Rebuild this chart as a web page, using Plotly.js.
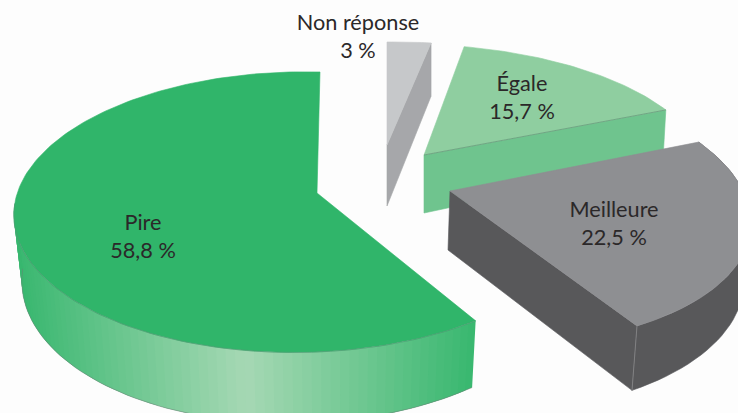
<!DOCTYPE html>
<html><head><meta charset="utf-8">
<script src="https://cdn.plot.ly/plotly-3.0.1.min.js"></script>
<style>html,body{margin:0;padding:0;background:#fdfdfd}#c{width:738px;height:413px}</style>
</head><body><div id="c"></div>
<script>
// data, clockwise from 12 o'clock
const categories = ["Non réponse", "Égale", "Meilleure", "Pire"];
const percentages = [3, 15.7, 22.5, 58.8];

// styles
const topColors = ["#c6c8ca", "#8fcea0", "#8e8f92", "#30b56a"];
const wallColors = ["#a6a7aa", "#6fc48e", "#58585a", "#30b56a"];

// perspective drawing parameters of each slice (one per category)
const apexX = [387, 424, 450, 317];
const apexY = [145, 155, 191, 193];
const radiusX = [269, 294, 271.2, 282];
const radiusY = [117, 126, 131.6, 137.5];
const shearX = [0, -9.3, -17.7, 3.4];
const shearY = [10, 1.4, -3.1, 0];
const sideTerm = [0.059, 0.059, -0.08, 0.059];
const wallH = [61, 58, 59, 61];
const wallVx = [387, 424, 325, 334];
const wallShrink = [0, 0.0124, 0.016, 0.025];
const persDepth = 0.136, persSide = 0.059;
const labelX = [358, 522, 614, 143];
const labelY = [24.5, 86, 211.5, 224.5];

const rad = d => d * Math.PI / 180;
function rimPt(i, th) {
  const s = Math.sin(rad(th)), c = Math.cos(rad(th));
  const den = 1 + persDepth * c + sideTerm[i] * s;
  return {x: apexX[i] + (radiusX[i] * s + shearX[i] * c) / den,
          y: apexY[i] - (radiusY[i] * c + shearY[i] * s) / den,
          s: 1 / (1 + persDepth * c + persSide * s)};
}
function lowPt(i, p) {
  return {x: wallVx[i] + (p.x - wallVx[i]) * (1 - wallShrink[i]), y: p.y + wallH[i] * p.s};
}
const apexPt = i => ({x: apexX[i], y: apexY[i], s: 1});
function steps(a, b, n) { const o = []; for (let j = 0; j <= n; j++) o.push(a + (b - a) * j / n); return o; }

const traces = [];
function poly(pts, color, lw, lc) {
  traces.push({type: "scatter", mode: "lines", x: pts.map(p => p.x), y: pts.map(p => p.y),
    fill: "toself", fillcolor: color, line: {color: lc || color, width: lw === undefined ? 0.6 : lw},
    hoverinfo: "skip", showlegend: false});
}
function band(pts, color) {
  traces.push({type: "scatter", mode: "none", x: pts.map(p => p.x), y: pts.map(p => p.y),
    fill: "toself", fillcolor: color, hoverinfo: "skip", showlegend: false});
}
function edge(pts, color, w) {
  traces.push({type: "scatter", mode: "lines", x: pts.map(p => p.x), y: pts.map(p => p.y),
    line: {color: color, width: w}, hoverinfo: "skip", showlegend: false});
}
const starts = [], ends = [];
let cum = 0;
percentages.forEach(v => { starts.push(cum * 3.6); cum += v; ends.push(cum * 3.6); });

function hex(c) { return [1, 3, 5].map(k => parseInt(c.substr(k, 2), 16)); }
function mix(a, b, t) {
  const A = hex(a), B = hex(b);
  return "rgb(" + A.map((v, k) => Math.round(v + (B[k] - v) * t)).join(",") + ")";
}
function topFace(i) {
  const arc = steps(starts[i], ends[i], Math.max(8, Math.round(percentages[i] * 3))).map(t => rimPt(i, t));
  poly([apexPt(i), ...arc, apexPt(i)], topColors[i]);
}

// Pire : curved wall with a shaded band, then top
(function () {
  const i = 3, a = ends[2], b = 266;
  const ts = steps(a, b, 70);
  for (let j = 0; j < ts.length - 1; j++) {
    const p = rimPt(i, ts[j]), q = rimPt(i, ts[Math.min(j + 2, ts.length - 1)]);
    const m = rimPt(i, ts[j + 1]);
    const xm = (p.x + m.x) / 2;
    const t = xm < 245 ? (xm - 14) / (245 - 14) : (476 - xm) / (476 - 245);
    const col = mix("#38b76f", "#a6d8b4", Math.max(0, Math.min(1, t)));
    band([p, m, q, lowPt(i, q), lowPt(i, m), lowPt(i, p), p], col);
  }
  topFace(i);
  edge(ts.map(t => rimPt(i, t)), "#5f8f78", 0.5);
  edge(ts.map(t => lowPt(i, rimPt(i, t))), "#6d7f76", 0.5);
})();

// Non réponse : cut face and top
(function () {
  const i = 0, p = rimPt(i, ends[i]);
  poly([apexPt(i), p, lowPt(i, p), lowPt(i, apexPt(i)), apexPt(i)], wallColors[i]);
  topFace(i);
})();

// Égale : cut face and top
(function () {
  const i = 1, p = rimPt(i, ends[i]);
  poly([apexPt(i), p, lowPt(i, p), lowPt(i, apexPt(i)), apexPt(i)], wallColors[i]);
  topFace(i);
  edge([apexPt(i), p], "#5c8a70", 0.6);
})();

// Meilleure : rim, cut face and top
(function () {
  const i = 2, p = rimPt(i, ends[i]);
  const ts = steps(starts[i], ends[i], 40);
  const rim = ts.map(t => rimPt(i, t));
  poly([...rim, ...rim.map(q => lowPt(i, q)).reverse(), rim[0]], wallColors[i]);
  poly([apexPt(i), p, lowPt(i, p), lowPt(i, apexPt(i)), apexPt(i)], wallColors[i]);
  topFace(i);
  edge([p, lowPt(i, p)], "#8a8a8c", 0.8);
})();

// labels
categories.forEach((c, i) => {
  const val = String(percentages[i]).replace(".", ",") + " %";
  traces.push({type: "scatter", mode: "text", x: [labelX[i], labelX[i]], y: [labelY[i], labelY[i] + 28],
    text: [c, val], textposition: "middle center", cliponaxis: false,
    textfont: {family: "Lato, 'Open Sans', sans-serif", size: 21.7, color: "#2b2829"},
    hoverinfo: "skip", showlegend: false});
});

Plotly.newPlot("c", traces, {
  width: 738, height: 413, margin: {l: 0, r: 0, t: 0, b: 0},
  paper_bgcolor: "#fdfdfd", plot_bgcolor: "#fdfdfd", showlegend: false,
  xaxis: {range: [0, 738], visible: false, fixedrange: true},
  yaxis: {range: [413, 0], visible: false, fixedrange: true}
}, {displayModeBar: false, staticPlot: true});
</script></body></html>
